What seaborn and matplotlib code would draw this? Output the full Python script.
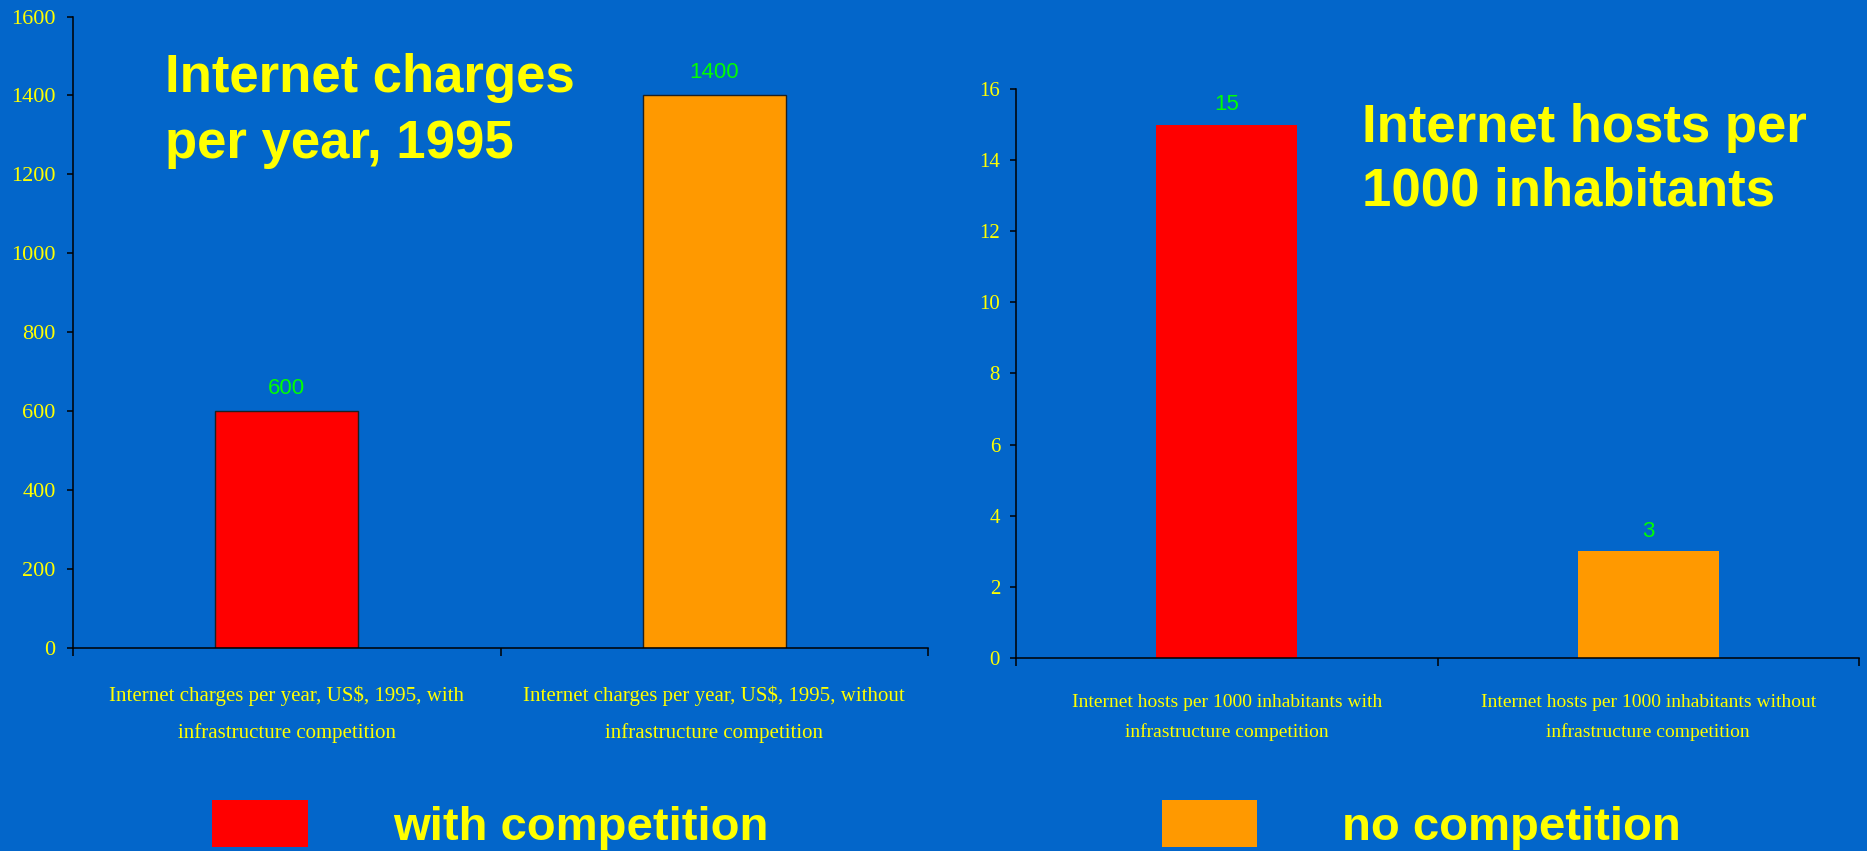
import matplotlib
matplotlib.use("Agg")
import matplotlib.pyplot as plt
from matplotlib.patches import Patch
import seaborn as sns

# ---- data ----
charges_categories = [
    "Internet charges per year, US$, 1995, with\ninfrastructure competition",
    "Internet charges per year, US$, 1995, without\ninfrastructure competition",
]
charges_values = [600, 1400]
charges_ticks = [0, 200, 400, 600, 800, 1000, 1200, 1400, 1600]

hosts_categories = [
    "Internet hosts per 1000 inhabitants with\ninfrastructure competition",
    "Internet hosts per 1000 inhabitants without\ninfrastructure competition",
]
hosts_values = [15, 3]
hosts_ticks = [0, 2, 4, 6, 8, 10, 12, 14, 16]

title_left = "Internet charges\nper year, 1995"
title_right = "Internet hosts per\n1000 inhabitants"
legend_labels = ["with competition", "no competition"]

# ---- styles ----
BG = "#0366CA"
RED = "#FF0000"
ORANGE = "#FF9900"
YELLOW = "#FFFF00"
GREEN = "#00FF00"

sns.set_style("ticks")
plt.rcParams["font.family"] = ["Liberation Sans", "DejaVu Sans"]

W, H = 1867, 851
fig = plt.figure(figsize=(W / 100, H / 100), dpi=100, facecolor=BG)


def px_axes(x0, x1, ytop, ybot):
    return fig.add_axes([x0 / W, 1 - ybot / H, (x1 - x0) / W, (ybot - ytop) / H])


def style_axes(ax, ticks, tick_fs, label_fs, label_ls, ylabel_pad, xlabel_pad):
    ax.set_facecolor(BG)
    for s in ["top", "right"]:
        ax.spines[s].set_visible(False)
    for s in ["left", "bottom"]:
        ax.spines[s].set_color("black")
        ax.spines[s].set_linewidth(1.1)
    ax.set_ylim(ticks[0], ticks[-1])
    ax.set_yticks(ticks)
    ax.set_xlim(-0.5, 1.5)
    ax.set_xticks([-0.5, 0.5, 1.5], minor=True)
    ax.tick_params(axis="y", colors="black", labelcolor=YELLOW, length=4.5,
                   width=1.1, pad=ylabel_pad, labelsize=tick_fs)
    ax.tick_params(axis="x", which="major", length=0, pad=xlabel_pad,
                   labelcolor=YELLOW, labelsize=label_fs)
    ax.tick_params(axis="x", which="minor", length=6, width=1.1, colors="black",
                   direction="out")
    for lab in ax.get_yticklabels():
        lab.set_family("Liberation Serif")
    for lab in ax.get_xticklabels():
        lab.set_family("Liberation Serif")
        lab.set_linespacing(label_ls)
    ax.set_xlabel("")
    ax.set_ylabel("")


# ---- left chart ----
axL = px_axes(73, 928, 16.5, 648)
sns.barplot(x=charges_categories, y=charges_values, hue=charges_categories,
            palette=[RED, ORANGE], width=0.335, saturation=1, legend=False,
            edgecolor="#202020", linewidth=1.0, ax=axL)
style_axes(axL, charges_ticks, 16, 15, 2.15, 8, 27)
for c in axL.containers:
    axL.bar_label(c, fmt="%g", padding=9, color=GREEN, fontsize=16,
                  family="Liberation Sans")
fig.text(165 / W, 1 - 53 / H, title_left, color=YELLOW, fontsize=38,
         fontweight="bold", va="top", ha="left", linespacing=1.42)

# ---- right chart ----
axR = px_axes(1016, 1859, 89, 658)
sns.barplot(x=hosts_categories, y=hosts_values, hue=hosts_categories,
            palette=[RED, ORANGE], width=0.335, saturation=1, legend=False,
            linewidth=0, ax=axR)
style_axes(axR, hosts_ticks, 15, 14, 1.9, 7, 26)
for c in axR.containers:
    axR.bar_label(c, fmt="%g", padding=7, color=GREEN, fontsize=16,
                  family="Liberation Sans")
fig.text(1362 / W, 1 - 103 / H, title_right, color=YELLOW, fontsize=38,
         fontweight="bold", va="top", ha="left", linespacing=1.34)

# ---- bottom legends ----
leg_fs = 34
fs_px = leg_fs * 100 / 72
leg_prop = {"family": "Liberation Sans", "weight": "bold", "size": leg_fs}
fig.legend(handles=[Patch(facecolor=RED, edgecolor="none", label=legend_labels[0])],
           loc="center left", bbox_to_anchor=(212 / W, 1 - 825 / H),
           frameon=False, borderpad=0, borderaxespad=0,
           handlelength=96 / fs_px, handleheight=54 / fs_px,
           handletextpad=85 / fs_px, prop=leg_prop, labelcolor=YELLOW)
fig.legend(handles=[Patch(facecolor=ORANGE, edgecolor="none", label=legend_labels[1])],
           loc="center left", bbox_to_anchor=(1162 / W, 1 - 825 / H),
           frameon=False, borderpad=0, borderaxespad=0,
           handlelength=95 / fs_px, handleheight=54 / fs_px,
           handletextpad=85 / fs_px, prop=leg_prop, labelcolor=YELLOW)

fig.savefig("out.png", dpi=100, facecolor=BG)
